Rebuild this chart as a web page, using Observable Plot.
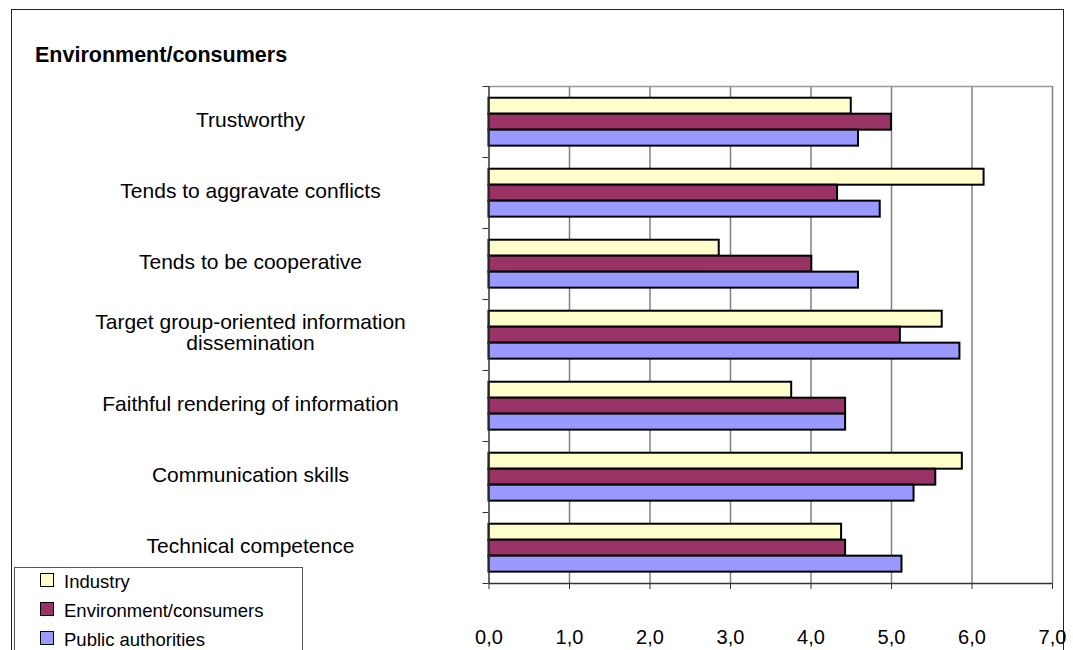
<!DOCTYPE html>
<html>
<head>
<meta charset="utf-8">
<script src="https://cdn.jsdelivr.net/npm/d3@7"></script>
<script src="https://cdn.jsdelivr.net/npm/@observablehq/plot@0.6"></script>
<style>
  html, body { margin: 0; padding: 0; background: #fff; }
  #wrap { position: relative; width: 1073px; height: 650px; overflow: hidden; font-family: "Liberation Sans", Arial, sans-serif; }
  #frame { position: absolute; left: 11px; top: 9px; width: 1053px; height: 700px; border: 1.5px solid #222; box-sizing: border-box; }
  #title { position: absolute; left: 35px; top: 43px; font-size: 21.5px; font-weight: bold; color: #000; }
  #chart { position: absolute; left: 0; top: 0; }
  #legend { position: absolute; left: 14px; top: 567px; width: 289px; height: 120px; border: 1px solid #555; box-sizing: border-box; background: #fff; }
  .item { position: absolute; left: 25px; height: 22px; display: flex; align-items: center; font-size: 18.5px; color: #000; }
  .sw { width: 12px; height: 12px; border: 1.5px solid #000; margin-right: 10px; margin-top: -5px; }
</style>
</head>
<body>
<div id="wrap">
  <div id="frame"></div>
  <div id="chart"></div>
  <div id="title">Environment/consumers</div>
  <div id="legend"></div>
</div>
<script>
// ---- data ----
const categories = [
  "Trustworthy",
  "Tends to aggravate conflicts",
  "Tends to be cooperative",
  "Target group-oriented information\ndissemination",
  "Faithful rendering of information",
  "Communication skills",
  "Technical competence"
];
const seriesNames = ["Industry", "Environment/consumers", "Public authorities"];
const industry          = [4.50, 6.15, 2.86, 5.63, 3.76, 5.88, 4.38];
const envConsumers      = [5.00, 4.33, 4.01, 5.11, 4.43, 5.55, 4.43];
const publicAuthorities = [4.59, 4.86, 4.59, 5.85, 4.43, 5.28, 5.13];
const xTicks = [0, 1, 2, 3, 4, 5, 6, 7];
const seriesColors = ["#FFFFCC", "#993366", "#9999FF"];

// ---- build table ----
const seriesValues = [industry, envConsumers, publicAuthorities];
const groupPad = 0.165;   // fraction of a category band above the group
const barFrac = 0.225;    // fraction of a category band per bar
const rows = categories.flatMap((c, i) =>
  seriesNames.map((s, j) => ({
    category: c, index: i, series: s, slot: j, value: seriesValues[j][i]
  }))
);
const boundaries = d3.range(0, categories.length + 1);
const centers = categories.map((c, i) => i + 0.5);

const chart = Plot.plot({
  width: 1073,
  height: 650,
  marginLeft: 488.5,
  marginRight: 21,
  marginTop: 86,
  marginBottom: 67,
  style: { fontFamily: '"Liberation Sans", Arial, sans-serif', color: "#000", background: "transparent" },
  x: { domain: [0, 7], axis: null },
  y: { domain: [0, categories.length], reverse: true, axis: null },
  color: { domain: seriesNames, range: seriesColors },
  marks: [
    Plot.gridX(xTicks.slice(1), { stroke: "#808080", strokeOpacity: 1, strokeWidth: 1.5 }),
    Plot.ruleY([0], { stroke: "#999", strokeWidth: 1.5 }),
    Plot.rect(rows, {
      x1: 0,
      x2: "value",
      y1: d => d.index + groupPad + d.slot * barFrac,
      y2: d => d.index + groupPad + (d.slot + 1) * barFrac,
      fill: "series",
      stroke: "#000",
      strokeWidth: 2,
      inset: 0
    }),
    Plot.ruleX([0], { stroke: "#333", strokeWidth: 1.5 }),
    Plot.ruleY([categories.length], { stroke: "#333", strokeWidth: 1.5 }),
    Plot.axisX({
      ticks: xTicks,
      tickSize: 6,
      tickPadding: 40,
      stroke: "#333",
      fontSize: 20,
      label: null,
      tickFormat: d => d.toFixed(1).replace(".", ",")
    }),
    Plot.axisY({
      ticks: boundaries,
      tickSize: 6,
      stroke: "#333",
      tickFormat: () => "",
      label: null
    }),
    Plot.axisY({
      ticks: centers,
      tickSize: 0,
      tickPadding: 238.5,
      textAnchor: "middle",
      fontSize: 21,
      dy: -2,
      label: null,
      tickFormat: v => categories[Math.round(v - 0.5)]
    })
  ]
});
document.getElementById("chart").appendChild(chart);

// ---- legend ----
const legend = document.getElementById("legend");
seriesNames.forEach((s, j) => {
  const it = document.createElement("div");
  it.className = "item";
  it.style.top = (3 + j * 29) + "px";
  const sw = document.createElement("span");
  sw.className = "sw";
  sw.style.background = seriesColors[j];
  const tx = document.createElement("span");
  tx.textContent = s;
  it.appendChild(sw);
  it.appendChild(tx);
  legend.appendChild(it);
});
</script>
</body>
</html>
